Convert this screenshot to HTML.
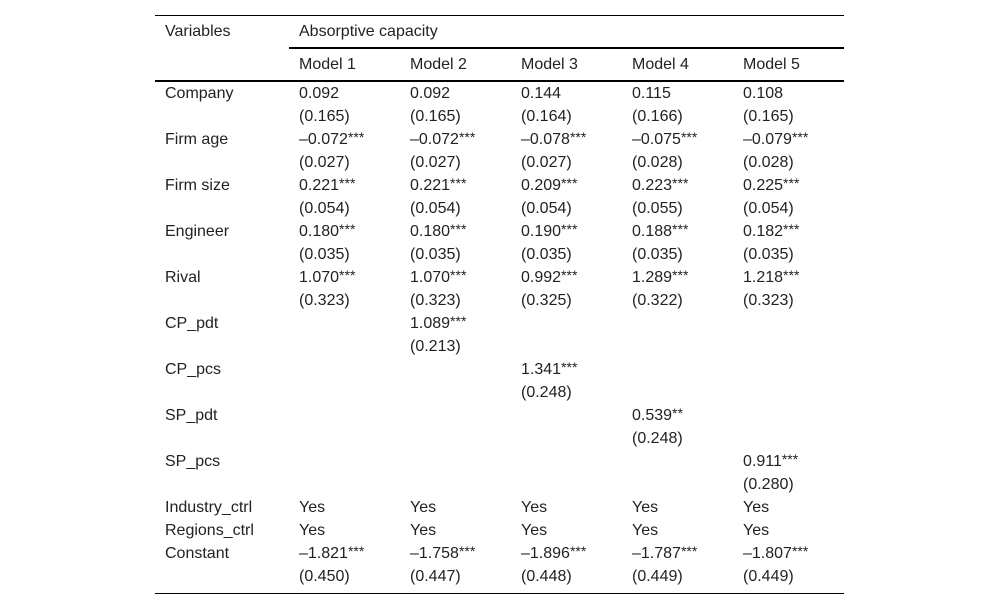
<!DOCTYPE html>
<html lang="en">
<head>
<meta charset="utf-8">
<title>Absorptive capacity regression table</title>
<style>
html,body{margin:0;padding:0;background:#fff;}
#page{position:relative;width:1000px;height:609px;overflow:hidden;background:#fff;font-family:"Liberation Sans",Arial,sans-serif;font-size:16px;color:#222;}
.rule{position:absolute;background:#000;}
.c{position:absolute;line-height:20px;height:20px;margin-top:1px;white-space:nowrap;}
.c sup{font-size:14px;line-height:0;vertical-align:baseline;position:relative;top:-2px;}
</style>
</head>
<body>
<div id="page">
<div class="rule" style="left:155px;top:15px;width:689px;height:1px"></div>
<div class="rule" style="left:289px;top:47px;width:555px;height:2px"></div>
<div class="rule" style="left:155px;top:80px;width:689px;height:2px"></div>
<div class="rule" style="left:155px;top:593px;width:689px;height:1px"></div>

<span class="c" style="left:165px;top:21px">Variables</span>
<span class="c" style="left:299px;top:21px">Absorptive capacity</span>
<span class="c" style="left:299px;top:54px">Model 1</span>
<span class="c" style="left:410px;top:54px">Model 2</span>
<span class="c" style="left:521px;top:54px">Model 3</span>
<span class="c" style="left:632px;top:54px">Model 4</span>
<span class="c" style="left:743px;top:54px">Model 5</span>

<div>
<span class="c" style="left:165px;top:83px">Company</span>
<span class="c" style="left:299px;top:83px">0.092</span><span class="c" style="left:410px;top:83px">0.092</span><span class="c" style="left:521px;top:83px">0.144</span><span class="c" style="left:632px;top:83px">0.115</span><span class="c" style="left:743px;top:83px">0.108</span>
<span class="c" style="left:299px;top:106px">(0.165)</span><span class="c" style="left:410px;top:106px">(0.165)</span><span class="c" style="left:521px;top:106px">(0.164)</span><span class="c" style="left:632px;top:106px">(0.166)</span><span class="c" style="left:743px;top:106px">(0.165)</span>
</div>
<div>
<span class="c" style="left:165px;top:129px">Firm age</span>
<span class="c" style="left:299px;top:129px">&ndash;0.072<sup>***</sup></span><span class="c" style="left:410px;top:129px">&ndash;0.072<sup>***</sup></span><span class="c" style="left:521px;top:129px">&ndash;0.078<sup>***</sup></span><span class="c" style="left:632px;top:129px">&ndash;0.075<sup>***</sup></span><span class="c" style="left:743px;top:129px">&ndash;0.079<sup>***</sup></span>
<span class="c" style="left:299px;top:152px">(0.027)</span><span class="c" style="left:410px;top:152px">(0.027)</span><span class="c" style="left:521px;top:152px">(0.027)</span><span class="c" style="left:632px;top:152px">(0.028)</span><span class="c" style="left:743px;top:152px">(0.028)</span>
</div>
<div>
<span class="c" style="left:165px;top:175px">Firm size</span>
<span class="c" style="left:299px;top:175px">0.221<sup>***</sup></span><span class="c" style="left:410px;top:175px">0.221<sup>***</sup></span><span class="c" style="left:521px;top:175px">0.209<sup>***</sup></span><span class="c" style="left:632px;top:175px">0.223<sup>***</sup></span><span class="c" style="left:743px;top:175px">0.225<sup>***</sup></span>
<span class="c" style="left:299px;top:198px">(0.054)</span><span class="c" style="left:410px;top:198px">(0.054)</span><span class="c" style="left:521px;top:198px">(0.054)</span><span class="c" style="left:632px;top:198px">(0.055)</span><span class="c" style="left:743px;top:198px">(0.054)</span>
</div>
<div>
<span class="c" style="left:165px;top:221px">Engineer</span>
<span class="c" style="left:299px;top:221px">0.180<sup>***</sup></span><span class="c" style="left:410px;top:221px">0.180<sup>***</sup></span><span class="c" style="left:521px;top:221px">0.190<sup>***</sup></span><span class="c" style="left:632px;top:221px">0.188<sup>***</sup></span><span class="c" style="left:743px;top:221px">0.182<sup>***</sup></span>
<span class="c" style="left:299px;top:244px">(0.035)</span><span class="c" style="left:410px;top:244px">(0.035)</span><span class="c" style="left:521px;top:244px">(0.035)</span><span class="c" style="left:632px;top:244px">(0.035)</span><span class="c" style="left:743px;top:244px">(0.035)</span>
</div>
<div>
<span class="c" style="left:165px;top:267px">Rival</span>
<span class="c" style="left:299px;top:267px">1.070<sup>***</sup></span><span class="c" style="left:410px;top:267px">1.070<sup>***</sup></span><span class="c" style="left:521px;top:267px">0.992<sup>***</sup></span><span class="c" style="left:632px;top:267px">1.289<sup>***</sup></span><span class="c" style="left:743px;top:267px">1.218<sup>***</sup></span>
<span class="c" style="left:299px;top:290px">(0.323)</span><span class="c" style="left:410px;top:290px">(0.323)</span><span class="c" style="left:521px;top:290px">(0.325)</span><span class="c" style="left:632px;top:290px">(0.322)</span><span class="c" style="left:743px;top:290px">(0.323)</span>
</div>
<div>
<span class="c" style="left:165px;top:313px">CP_pdt</span>
<span class="c" style="left:410px;top:313px">1.089<sup>***</sup></span>
<span class="c" style="left:410px;top:336px">(0.213)</span>
</div>
<div>
<span class="c" style="left:165px;top:359px">CP_pcs</span>
<span class="c" style="left:521px;top:359px">1.341<sup>***</sup></span>
<span class="c" style="left:521px;top:382px">(0.248)</span>
</div>
<div>
<span class="c" style="left:165px;top:405px">SP_pdt</span>
<span class="c" style="left:632px;top:405px">0.539<sup>**</sup></span>
<span class="c" style="left:632px;top:428px">(0.248)</span>
</div>
<div>
<span class="c" style="left:165px;top:451px">SP_pcs</span>
<span class="c" style="left:743px;top:451px">0.911<sup>***</sup></span>
<span class="c" style="left:743px;top:474px">(0.280)</span>
</div>
<div>
<span class="c" style="left:165px;top:497px">Industry_ctrl</span>
<span class="c" style="left:299px;top:497px">Yes</span><span class="c" style="left:410px;top:497px">Yes</span><span class="c" style="left:521px;top:497px">Yes</span><span class="c" style="left:632px;top:497px">Yes</span><span class="c" style="left:743px;top:497px">Yes</span>
</div>
<div>
<span class="c" style="left:165px;top:520px">Regions_ctrl</span>
<span class="c" style="left:299px;top:520px">Yes</span><span class="c" style="left:410px;top:520px">Yes</span><span class="c" style="left:521px;top:520px">Yes</span><span class="c" style="left:632px;top:520px">Yes</span><span class="c" style="left:743px;top:520px">Yes</span>
</div>
<div>
<span class="c" style="left:165px;top:543px">Constant</span>
<span class="c" style="left:299px;top:543px">&ndash;1.821<sup>***</sup></span><span class="c" style="left:410px;top:543px">&ndash;1.758<sup>***</sup></span><span class="c" style="left:521px;top:543px">&ndash;1.896<sup>***</sup></span><span class="c" style="left:632px;top:543px">&ndash;1.787<sup>***</sup></span><span class="c" style="left:743px;top:543px">&ndash;1.807<sup>***</sup></span>
<span class="c" style="left:299px;top:566px">(0.450)</span><span class="c" style="left:410px;top:566px">(0.447)</span><span class="c" style="left:521px;top:566px">(0.448)</span><span class="c" style="left:632px;top:566px">(0.449)</span><span class="c" style="left:743px;top:566px">(0.449)</span>
</div>
</div>
</body>
</html>
